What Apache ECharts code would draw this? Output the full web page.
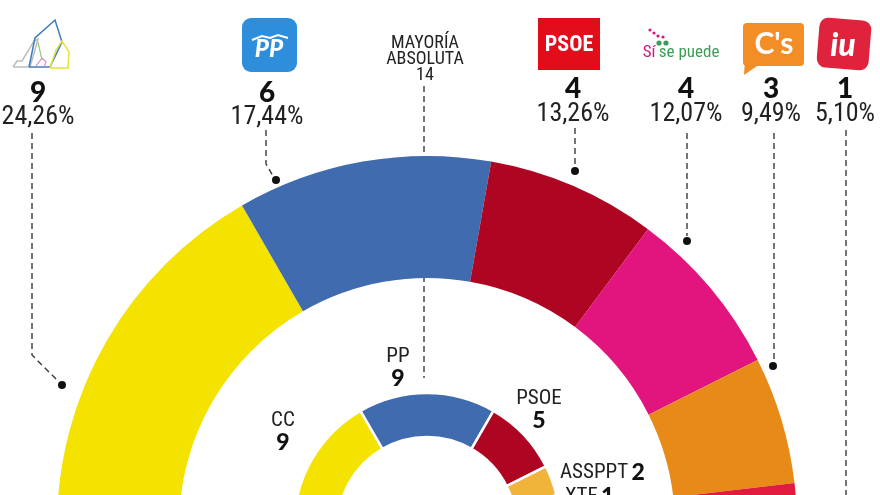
<!DOCTYPE html>
<html><head><meta charset="utf-8">
<script src="https://cdn.jsdelivr.net/npm/echarts@6/dist/echarts.min.js"></script>
<style>html,body{margin:0;padding:0;background:#fff}#c{width:880px;height:495px}</style>
</head><body><div id="c"></div>
<script>
// ---- data ----
const SEATS_TOTAL = 27;
const MAJORITY = 14;
const outerParties = ['CC', 'PP', 'PSOE', 'Sí se puede', "C's", 'IU'];
const outerSeats = [9, 6, 4, 4, 3, 1];
const outerPct = ['24,26%', '17,44%', '13,26%', '12,07%', '9,49%', '5,10%'];
const innerParties = ['CC', 'PP', 'PSOE', 'ASSPPT', 'XTF'];
const innerSeats = [9, 9, 5, 2, 1];

// ---- styles / layout ----
const outerColors = ['#F4E200', '#416BAF', '#AE0622', '#E2157F', '#E78A17', '#E11B3E'];
const innerColors = ['#F4E200', '#416BAF', '#AE0622', '#F1B43A', '#8CB43C'];
const CENTER = [427, 526];
const NARROW = "'Liberation Sans Narrow','Roboto Condensed','Arial Narrow','Liberation Sans',sans-serif";
const HEAVY = "Lato,'Open Sans','DejaVu Sans',sans-serif";
const topLabelX = [38, 267, 573, 686, 771, 845];
const topSeatY = [93, 93, 89, 89, 89, 89];
const topPctY = [117, 117, 114, 114, 114, 114];
const leaders = [
  {pts: [[32, 133], [32, 355], [58, 381]], dot: [62, 385]},
  {pts: [[266, 130], [266, 164], [273, 176]], dot: [276, 180]},
  {pts: [[575, 128], [575, 166]], dot: [575, 171]},
  {pts: [[687, 133], [687, 236]], dot: [687, 241]},
  {pts: [[774, 133], [774, 361]], dot: [773, 366]},
  {pts: [[846, 130], [846, 500]], dot: null}
];
const innerLabelLayout = [
  {x: 283, y: 432, stacked: true},
  {x: 398, y: 368, stacked: true},
  {x: 539, y: 410, stacked: true},
  {x: 560, y: 473, stacked: false},
  {x: 565, y: 497, stacked: false}
];

function halfRing(names, seats, colors) {
  const used = seats.reduce((a, b) => a + b, 0);
  const data = names.map((n, i) => ({name: n, value: seats[i], itemStyle: {color: colors[i]}}));
  // transparent filler: lower half of the circle plus any seats not shown
  data.push({name: '', value: SEATS_TOTAL + (SEATS_TOTAL - used),
    itemStyle: {color: 'rgba(0,0,0,0)', borderWidth: 0}, label: {show: false}});
  return data;
}

const dash = {stroke: '#3a3a3a', lineWidth: 1.4, lineDash: [6, 4]};
const graphics = [];

// majority line (behind rings)
graphics.push({type: 'line', z: 0, zlevel: 0, silent: true,
  shape: {x1: 424, y1: 86, x2: 424, y2: 378}, style: dash});
graphics.push({type: 'text', z: 10, style: {text: 'MAYORÍA\nABSOLUTA\n' + MAJORITY, x: 425, y: 59,
  textAlign: 'center', textVerticalAlign: 'middle', fill: '#222', font: '18px ' + NARROW, lineHeight: 16}});

// top labels
outerParties.forEach((p, i) => {
  graphics.push({type: 'text', z: 10, style: {text: String(outerSeats[i]), x: topLabelX[i], y: topSeatY[i],
    textAlign: 'center', textVerticalAlign: 'middle', fill: '#111', font: '900 28px ' + HEAVY}});
  graphics.push({type: 'text', z: 10, style: {text: outerPct[i], x: topLabelX[i], y: topPctY[i],
    textAlign: 'center', textVerticalAlign: 'middle', fill: '#222', font: '26px ' + NARROW}});
});
leaders.forEach(l => {
  graphics.push({type: 'polyline', z: 10, silent: true, shape: {points: l.pts}, style: Object.assign({fill: null}, dash)});
  if (l.dot) graphics.push({type: 'circle', z: 10, shape: {cx: l.dot[0], cy: l.dot[1], r: 4}, style: {fill: '#111'}});
});

// inner labels
innerParties.forEach((p, i) => {
  const L = innerLabelLayout[i];
  graphics.push({type: 'text', z: 10, style: {
    text: L.stacked ? '{n|' + p + '}\n{s|' + innerSeats[i] + '}' : '{n|' + p + '} {s|' + innerSeats[i] + '}',
    x: L.x, y: L.y, textAlign: L.stacked ? 'center' : 'left', textVerticalAlign: 'middle',
    rich: {n: {font: '21px ' + NARROW, fill: '#222', lineHeight: 21},
           s: {font: '900 23px ' + HEAVY, fill: '#111', lineHeight: 22}}}});
});

// logos
// CC (line drawing)
graphics.push({type: 'polyline', z: 10, shape: {points: [[13, 67], [17, 61], [22, 61], [34, 41], [38, 39], [35, 50], [30, 67], [13, 67]]}, style: {stroke: '#BDBDBD', lineWidth: 1.5, fill: null}});
graphics.push({type: 'polyline', z: 10, shape: {points: [[29, 67], [35, 38], [55, 20], [62, 42], [50, 67], [29, 67]]}, style: {stroke: '#3E7CC0', lineWidth: 1.5, fill: null}});
graphics.push({type: 'polyline', z: 10, shape: {points: [[50, 68], [56, 50], [62, 41], [69, 52], [68, 68], [50, 68]]}, style: {stroke: '#E5E23A', lineWidth: 1.5, fill: null}});
graphics.push({type: 'polyline', z: 10, shape: {points: [[36, 66], [42, 58], [46, 62], [44, 67]]}, style: {stroke: '#E38AC0', lineWidth: 1.2, fill: null}});
graphics.push({type: 'polyline', z: 10, shape: {points: [[38, 42], [42, 60]]}, style: {stroke: '#9ACB70', lineWidth: 1.2, fill: null}});
// PP
graphics.push({type: 'rect', z: 10, shape: {x: 242, y: 18, width: 55, height: 54, r: 9}, style: {fill: '#2F8EDC'}});
graphics.push({type: 'text', z: 11, style: {text: 'PP', x: 269, y: 49, textAlign: 'center', textVerticalAlign: 'middle',
  fill: '#fff', font: 'italic 900 24px ' + HEAVY}});
graphics.push({type: 'polyline', z: 11, shape: {points: [[252, 40], [262, 36], [270, 38], [278, 35], [288, 38]]}, style: {stroke: '#fff', lineWidth: 2, fill: null}});
// PSOE
graphics.push({type: 'rect', z: 10, shape: {x: 538, y: 18, width: 62, height: 52}, style: {fill: '#E30C1A'}});
graphics.push({type: 'text', z: 11, style: {text: 'PSOE', x: 569, y: 45, textAlign: 'center', textVerticalAlign: 'middle',
  fill: '#fff', font: 'bold 22px ' + NARROW}});
// Sí se puede
graphics.push({type: 'text', z: 10, style: {text: '{a|Sí} {b|se puede}', x: 681, y: 53, textAlign: 'center', textVerticalAlign: 'middle',
  rich: {a: {fill: '#D2197D', font: '17px ' + NARROW}, b: {fill: '#3A9F55', font: '17px ' + NARROW}}}});
[[650, 30, '#D2197D'], [654, 33, '#D2197D'], [658, 36, '#D2197D'], [663, 37, '#D2197D'], [659, 43, '#3A9F55'], [666, 43, '#3A9F55']].forEach(d =>
  graphics.push({type: 'circle', z: 10, shape: {cx: d[0], cy: d[1], r: d[2] === '#3A9F55' ? 2.6 : 1.6}, style: {fill: d[2]}}));
// C's
graphics.push({type: 'rect', z: 10, shape: {x: 743, y: 23, width: 61, height: 43, r: 4}, style: {fill: '#F28E25'}});
graphics.push({type: 'polygon', z: 10, shape: {points: [[745, 60], [744, 75], [760, 64]]}, style: {fill: '#F28E25'}});
graphics.push({type: 'text', z: 11, style: {text: "C's", x: 774, y: 44, textAlign: 'center', textVerticalAlign: 'middle',
  fill: '#fff', font: 'bold 30px ' + HEAVY}});
// IU
graphics.push({type: 'rect', z: 10, rotation: -0.08, originX: 844, originY: 44, shape: {x: 818, y: 19, width: 52, height: 50, r: 9}, style: {fill: '#E0233C'}});
graphics.push({type: 'text', z: 11, style: {text: 'iu', x: 843, y: 46, textAlign: 'center', textVerticalAlign: 'middle',
  fill: '#fff', font: 'italic 900 32px ' + HEAVY}});

const chart = echarts.init(document.getElementById('c'), null, {renderer: 'canvas'});
chart.setOption({
  animation: false,
  backgroundColor: '#ffffff',
  graphic: graphics,
  series: [
    {type: 'pie', z: 2, center: CENTER, radius: [248, 370], startAngle: 180, clockwise: true,
     silent: true, label: {show: false}, labelLine: {show: false}, emphasis: {disabled: true},
     itemStyle: {borderWidth: 0},
     data: halfRing(outerParties, outerSeats, outerColors)},
    {type: 'pie', z: 2, center: CENTER, radius: [89, 133], startAngle: 180, clockwise: true,
     silent: true, label: {show: false}, labelLine: {show: false}, emphasis: {disabled: true},
     itemStyle: {borderColor: '#fff', borderWidth: 2.5},
     data: halfRing(innerParties, innerSeats, innerColors)}
  ]
});
</script>
</body></html>
